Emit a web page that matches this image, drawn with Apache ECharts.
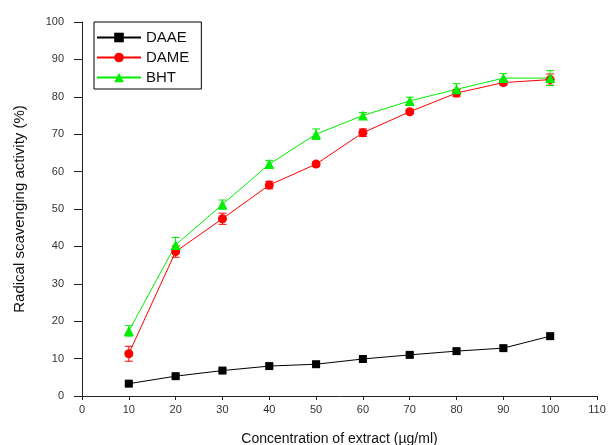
<!DOCTYPE html>
<html>
<head>
<meta charset="utf-8">
<script src="https://cdn.jsdelivr.net/npm/echarts@6/dist/echarts.min.js"></script>
<style>
  html, body { margin: 0; padding: 0; background: #fff; }
  #chart { width: 608px; height: 445px; }
</style>
</head>
<body>
<div id="chart"></div>
<script>
// concentration (µg/ml)
const conc = [10, 20, 30, 40, 50, 60, 70, 80, 90, 100];
// radical scavenging activity (%)
const daae = [3.3, 5.3, 6.8, 8.0, 8.5, 9.9, 11.0, 12.0, 12.8, 16.0];
const dame = [11.3, 38.6, 47.4, 56.4, 62.0, 70.4, 76.0, 81.0, 83.8, 84.6];
const bht = [17.4, 40.4, 51.2, 62.0, 70.0, 75.0, 78.9, 82.0, 85.0, 85.0];
// error bars (±)
const daaeErr = [0.5, 0.5, 0.5, 0.5, 0.5, 0.5, 0.5, 0.5, 0.5, 0.6];
const dameErr = [2.0, 1.5, 1.5, 1.0, 0.6, 1.0, 0.6, 1.0, 0.6, 1.5];
const bhtErr = [1.4, 2.0, 1.2, 1.0, 1.4, 0.8, 1.0, 1.5, 1.2, 2.0];

const chartDom = document.getElementById('chart');
const myChart = echarts.init(chartDom);

function pairs(vals) {
  return conc.map((c, i) => [c, vals[i]]);
}

function errData(vals, errs) {
  return conc.map((c, i) => [c, vals[i] - errs[i], vals[i] + errs[i]]);
}

// draws a vertical bar with caps for each point
function errorBar(color) {
  return function (params, api) {
    const x = api.value(0);
    const lo = api.coord([x, api.value(1)]);
    const hi = api.coord([x, api.value(2)]);
    const w = 4;
    const style = { stroke: color, lineWidth: 1 };
    return {
      type: 'group',
      children: [
        { type: 'line', shape: { x1: lo[0], y1: lo[1], x2: hi[0], y2: hi[1] }, style: style },
        { type: 'line', shape: { x1: lo[0] - w, y1: lo[1], x2: lo[0] + w, y2: lo[1] }, style: style },
        { type: 'line', shape: { x1: hi[0] - w, y1: hi[1], x2: hi[0] + w, y2: hi[1] }, style: style }
      ]
    };
  };
}

const font = 'Arial, "Liberation Sans", sans-serif';
const green = '#00ee00';

const option = {
  animation: false,
  backgroundColor: '#fff',
  grid: { left: 82, top: 22, right: 11, bottom: 49, outerBoundsMode: 'none' },
  legend: {
    orient: 'vertical',
    left: 94,
    top: 22,
    padding: [8, 12, 4, 2],
    itemGap: 5,
    itemWidth: 44,
    itemHeight: 12,
    borderColor: '#000',
    borderWidth: 1,
    borderRadius: 0,
    textStyle: { fontFamily: font, fontSize: 15, color: '#111' },
    data: ['DAAE', 'DAME', 'BHT']
  },
  xAxis: {
    type: 'value',
    min: 0,
    max: 110,
    interval: 10,
    name: 'Concentration of extract (µg/ml)',
    nameLocation: 'middle',
    nameGap: 36,
    nameTextStyle: { fontFamily: font, fontSize: 14, color: '#111' },
    axisLine: { lineStyle: { color: '#222', width: 1 } },
    axisTick: { inside: false, length: 4, lineStyle: { color: '#222' } },
    axisLabel: { fontFamily: font, fontSize: 11, color: '#333', margin: 8 },
    splitLine: { show: false }
  },
  yAxis: {
    type: 'value',
    min: 0,
    max: 100,
    interval: 10,
    name: 'Radical scavenging activity (%)',
    nameLocation: 'middle',
    nameGap: 55,
    nameTextStyle: { fontFamily: font, fontSize: 15, color: '#111' },
    axisLine: { show: true, lineStyle: { color: '#222', width: 1 } },
    axisTick: { show: true, length: 8, lineStyle: { color: '#222' } },
    axisLabel: { fontFamily: font, fontSize: 11, color: '#333', margin: 18 },
    splitLine: { show: false }
  },
  series: [
    {
      name: 'DAAE',
      type: 'line',
      data: pairs(daae),
      symbol: 'rect',
      symbolSize: 8,
      lineStyle: { color: '#000', width: 1 },
      itemStyle: { color: '#000' },
      z: 3
    },
    {
      name: 'DAME',
      type: 'line',
      data: pairs(dame),
      symbol: 'circle',
      symbolSize: 9,
      lineStyle: { color: '#ff0000', width: 1 },
      itemStyle: { color: '#ff0000' },
      z: 3
    },
    {
      name: 'BHT',
      type: 'line',
      data: pairs(bht),
      symbol: 'triangle',
      symbolSize: 10,
      lineStyle: { color: green, width: 1 },
      itemStyle: { color: green },
      z: 3
    },
    {
      type: 'custom',
      renderItem: errorBar('#000'),
      data: errData(daae, daaeErr),
      encode: { x: 0, y: [1, 2] },
      z: 2
    },
    {
      type: 'custom',
      renderItem: errorBar('#ff0000'),
      data: errData(dame, dameErr),
      encode: { x: 0, y: [1, 2] },
      z: 2
    },
    {
      type: 'custom',
      renderItem: errorBar(green),
      data: errData(bht, bhtErr),
      encode: { x: 0, y: [1, 2] },
      z: 2
    }
  ]
};
option && myChart.setOption(option);
</script>
</body>
</html>
